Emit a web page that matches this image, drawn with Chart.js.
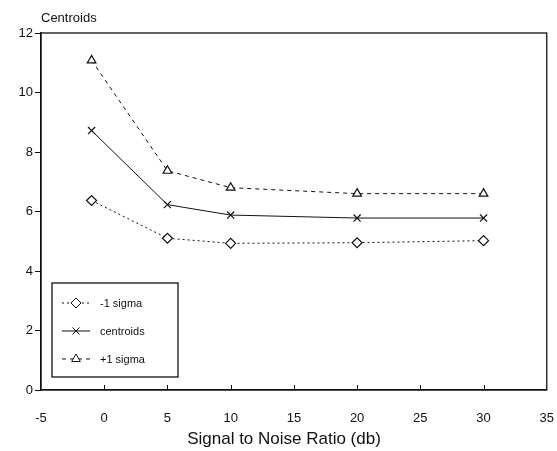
<!DOCTYPE html>
<html>
<head>
<meta charset="utf-8">
<style>
  html, body { margin: 0; padding: 0; background: #fff; }
  #wrap { width: 557px; height: 451px; }
</style>
<script src="https://cdn.jsdelivr.net/npm/chart.js@4/dist/chart.umd.min.js"></script>
</head>
<body>
<div id="wrap"><canvas id="c" width="557" height="451"></canvas></div>
<script>
// Signal-to-noise levels (db) at which centroids were measured
const snr = [-1, 5, 10, 20, 30];
// Centroid means and the +/- one sigma bands
const minusSigma = [6.37, 5.10, 4.93, 4.95, 5.02];
const centroids  = [8.72, 6.23, 5.88, 5.78, 5.78];
const plusSigma  = [11.08, 7.37, 6.80, 6.60, 6.60];

const xTicks = [-5, 0, 5, 10, 15, 20, 25, 30, 35];
const yTicks = [0, 2, 4, 6, 8, 10, 12];

const FONT = '"Liberation Sans", Arial, sans-serif';
const INK = '#111';

const pts = ys => snr.map((x, i) => ({ x, y: ys[i] }));

// Frame, inward x ticks, headings and boxed legend
const decorations = {
  id: 'decorations',
  afterDraw(chart) {
    const { ctx, chartArea: a, scales } = chart;
    ctx.save();
    ctx.strokeStyle = INK;
    ctx.lineWidth = 1.3;
    ctx.strokeRect(a.left, a.top, a.right - a.left, a.bottom - a.top);

    // short tick marks standing up from the x axis
    ctx.lineWidth = 1;
    xTicks.slice(1, -1).forEach(v => {
      const px = Math.round(scales.x.getPixelForValue(v)) + 0.5;
      ctx.beginPath();
      ctx.moveTo(px, a.bottom);
      ctx.lineTo(px, a.bottom - 5);
      ctx.stroke();
    });

    ctx.fillStyle = INK;
    ctx.font = '13px ' + FONT;
    ctx.textAlign = 'left';
    ctx.textBaseline = 'alphabetic';
    ctx.fillText('Centroids', 41, 22);

    ctx.font = '17px ' + FONT;
    ctx.textAlign = 'center';
    ctx.fillText('Signal to Noise Ratio (db)', 284, 444);

    // legend box in the lower-left of the plot
    const bx = 52, by = 283, bw = 126, bh = 94;
    ctx.lineWidth = 1.3;
    ctx.strokeRect(bx, by, bw, bh);
    const rows = [303, 331, 359];
    chart.data.datasets.forEach((ds, i) => {
      const y = rows[i];
      ctx.save();
      ctx.strokeStyle = ds.borderColor;
      ctx.lineWidth = ds.borderWidth;
      ctx.setLineDash(ds.borderDash || []);
      ctx.beginPath();
      ctx.moveTo(62, y);
      ctx.lineTo(90, y);
      ctx.stroke();
      ctx.setLineDash([]);
      ctx.fillStyle = '#fff';
      Chart.helpers.drawPoint(ctx, {
        pointStyle: ds.pointStyle,
        radius: ds.pointRadius,
        borderWidth: ds.pointBorderWidth,
        rotation: 0
      }, 76, y);
      ctx.restore();
      ctx.fillStyle = INK;
      ctx.font = '11px ' + FONT;
      ctx.textAlign = 'left';
      ctx.textBaseline = 'middle';
      ctx.fillText(ds.label, 100, y + 1);
    });
    ctx.restore();
  }
};

const series = (label, data, dash, style, radius) => ({
  label,
  data: pts(data),
  borderColor: INK,
  borderWidth: 1,
  borderDash: dash,
  pointStyle: style,
  pointRadius: radius,
  pointBorderWidth: 1.2,
  pointBackgroundColor: '#fff',
  pointBorderColor: INK,
  tension: 0,
  showLine: true
});

new Chart(document.getElementById('c'), {
  type: 'scatter',
  data: {
    datasets: [
      series('-1 sigma', minusSigma, [2, 3], 'rectRot', 5),
      series('centroids', centroids, [], 'crossRot', 5),
      series('+1 sigma', plusSigma, [4, 4], 'triangle', 5)
    ]
  },
  options: {
    responsive: false,
    animation: false,
    layout: { autoPadding: false, padding: { top: 33, right: -20, left: 0, bottom: 0 } },
    plugins: { legend: { display: false }, tooltip: { enabled: false } },
    scales: {
      x: {
        type: 'linear',
        min: -5, max: 35,
        afterBuildTicks: s => { s.ticks = xTicks.map(v => ({ value: v })); },
        afterFit: s => { s.height = 61; },
        // invisible outer ticks only serve to set the label offset
        grid: { display: true, drawOnChartArea: false, drawTicks: true, tickLength: 18, tickColor: 'rgba(0,0,0,0)' },
        border: { display: true, color: INK, width: 1.3 },
        ticks: { color: INK, font: { family: FONT, size: 13 }, padding: 3, maxRotation: 0 }
      },
      y: {
        min: 0, max: 12,
        afterBuildTicks: s => { s.ticks = yTicks.map(v => ({ value: v })); },
        afterFit: s => { s.width = 41; },
        grid: { display: true, drawOnChartArea: false, drawTicks: true, tickLength: 6, color: INK },
        border: { display: true, color: INK, width: 1.3 },
        ticks: { color: INK, font: { family: FONT, size: 13 }, padding: 2 }
      }
    }
  },
  plugins: [decorations]
});
</script>
</body>
</html>
